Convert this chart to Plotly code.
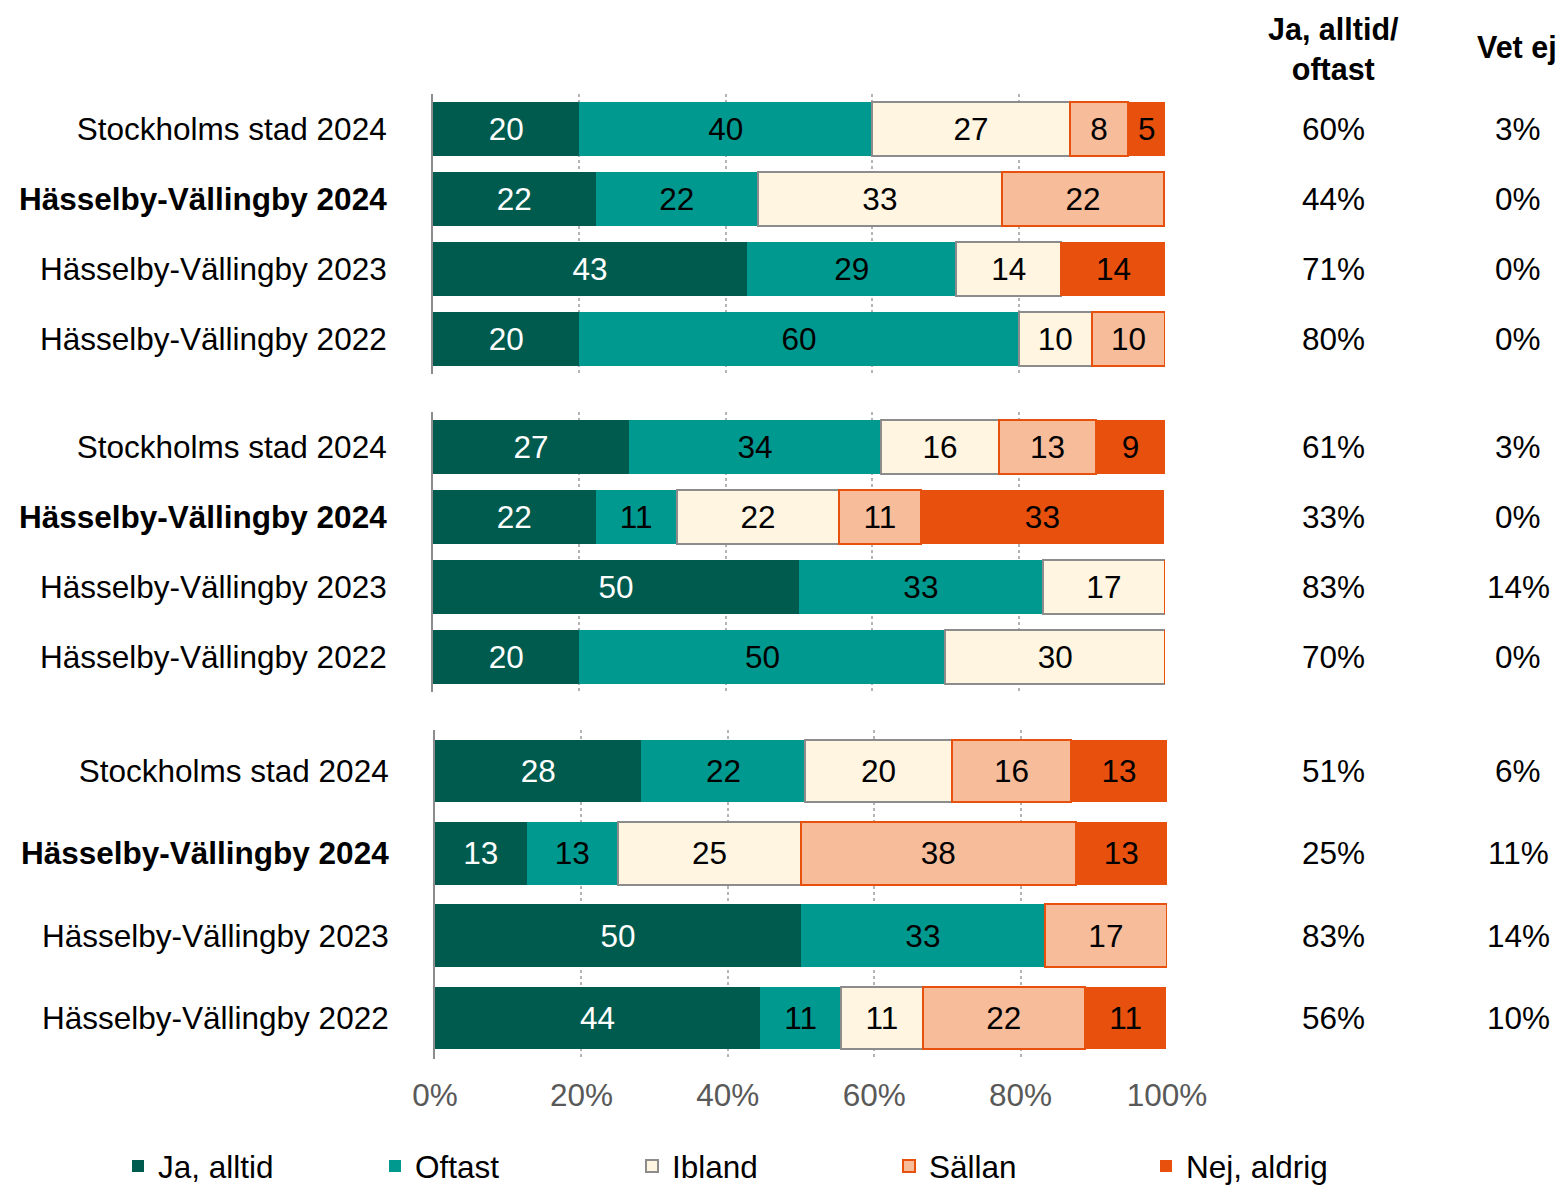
import plotly.graph_objects as go

# ---------------- data ----------------
categories = ["Stockholms stad 2024", "<b>Hässelby-Vällingby 2024</b>",
              "Hässelby-Vällingby 2023", "Hässelby-Vällingby 2022"]
series_names = ["Ja, alltid", "Oftast", "Ibland", "Sällan", "Nej, aldrig"]

# panel 1
p1_ja = [20, 22.2, 42.9, 20]
p1_oftast = [40, 22.2, 28.6, 60]
p1_ibland = [27, 33.3, 14.3, 10]
p1_sallan = [8, 22.2, 0, 10]
p1_nej = [5, 0, 14.3, 0]
p1_jaoftast = ["60%", "44%", "71%", "80%"]
p1_vetej = ["3%", "0%", "0%", "0%"]

# panel 2
p2_ja = [26.8, 22.2, 50, 20]
p2_oftast = [34.4, 11.1, 33.3, 50]
p2_ibland = [16.1, 22.2, 16.7, 30]
p2_sallan = [13.3, 11.1, 0, 0]
p2_nej = [9.4, 33.3, 0, 0]
p2_jaoftast = ["61%", "33%", "83%", "70%"]
p2_vetej = ["3%", "0%", "14%", "0%"]

# panel 3
p3_ja = [28.2, 12.5, 50, 44.4]
p3_oftast = [22.4, 12.5, 33.3, 11.1]
p3_ibland = [20.0, 25, 0, 11.1]
p3_sallan = [16.3, 37.5, 16.7, 22.2]
p3_nej = [13.1, 12.5, 0, 11.1]
p3_jaoftast = ["51%", "25%", "83%", "56%"]
p3_vetej = ["6%", "11%", "14%", "10%"]

x_ticks = [0, 20, 40, 60, 80, 100]
x_ticktext = ["0%", "20%", "40%", "60%", "80%", "100%"]
header_jaoftast = "<b>Ja, alltid/<br>oftast</b>"
header_vetej = "<b>Vet ej</b>"

# ---------------- styles ----------------
FONT = "Liberation Sans, Arial, sans-serif"
FS = 31.5
fills = ["#005B4F", "#00998F", "#FFF5E1", "#F7BD9B", "#E8500E"]
lines = ["#005B4F", "#00998F", "#8C8C8C", "#E8500E", "#E8500E"]
line_w = [0, 0, 2, 2, 0]
txt_col = ["white", "black", "black", "black", "black"]

panels = [
    ([p1_ja, p1_oftast, p1_ibland, p1_sallan, p1_nej], p1_jaoftast, p1_vetej),
    ([p2_ja, p2_oftast, p2_ibland, p2_sallan, p2_nej], p2_jaoftast, p2_vetej),
    ([p3_ja, p3_oftast, p3_ibland, p3_sallan, p3_nej], p3_jaoftast, p3_vetej),
]

W, H = 1564, 1188
x_doms = [[433 / W, 1165 / W], [433 / W, 1165 / W], [435 / W, 1167 / W]]
y_doms = [[1 - 374 / H, 1 - 94 / H], [1 - 692 / H, 1 - 412 / H], [1 - 1059 / H, 1 - 730 / H]]


def lab(v):
    return "" if v == 0 else str(int(v + 0.5))


fig = go.Figure()
annotations = []
for pi, (vals, jo, ve) in enumerate(panels):
    suf = "" if pi == 0 else str(pi + 1)
    for si, name in enumerate(series_names):
        fig.add_trace(go.Bar(
            y=categories, x=vals[si], orientation="h", name=name,
            xaxis="x" + suf, yaxis="y" + suf,
            marker=dict(color=fills[si], line=dict(color=lines[si], width=line_w[si])),
            text=[lab(v) for v in vals[si]], textposition="inside",
            insidetextanchor="middle", textangle=0, constraintext="none",
            insidetextfont=dict(color=txt_col[si], size=FS, family=FONT),
            showlegend=(pi == 0), legendgroup=name, hoverinfo="skip",
        ))
    for ci, cat in enumerate(categories):
        annotations.append(dict(xref="paper", yref="y" + suf, x=1333 / W, y=cat,
                                text=jo[ci], showarrow=False, xanchor="center",
                                font=dict(size=FS, color="black", family=FONT)))
        annotations.append(dict(xref="paper", yref="y" + suf, x=1518 / W, y=cat,
                                text=ve[ci], showarrow=False, xanchor="center",
                                font=dict(size=FS, color="black", family=FONT)))

annotations.append(dict(xref="paper", yref="paper", x=1333 / W, y=1 - 49 / H,
                        text=header_jaoftast, showarrow=False, xanchor="center",
                        yanchor="middle", font=dict(size=30.5, color="black", family=FONT)))
annotations.append(dict(xref="paper", yref="paper", x=1517 / W, y=1 - 47 / H,
                        text=header_vetej, showarrow=False, xanchor="center",
                        yanchor="middle", font=dict(size=30.5, color="black", family=FONT)))

layout = dict(
    width=W, height=H, barmode="stack", bargap=0.24,
    margin=dict(l=0, r=0, t=0, b=0, autoexpand=False),
    paper_bgcolor="white", plot_bgcolor="white",
    font=dict(family=FONT, size=FS, color="black"),
    annotations=annotations,
    legend=dict(orientation="h", x=118 / W, xanchor="left", y=1 - 1139 / H, yanchor="top",
                entrywidth=212, entrywidthmode="pixels", traceorder="normal",
                font=dict(size=FS, color="black", family=FONT), itemwidth=30),
)
for pi in range(3):
    suf = "" if pi == 0 else str(pi + 1)
    layout["xaxis" + suf] = dict(
        domain=x_doms[pi], range=[0, 100], anchor="y" + suf,
        tickvals=x_ticks, ticktext=x_ticktext, showticklabels=(pi == 2),
        showgrid=True, gridcolor="#B4B4B4", griddash="dot", gridwidth=2,
        zeroline=False, showline=False, ticks="", ticklabelstandoff=14,
        tickfont=dict(size=FS, color="#595959", family=FONT),
        fixedrange=True,
    )
    layout["yaxis" + suf] = dict(
        domain=y_doms[pi], anchor="x" + suf, type="category",
        autorange="reversed", showline=True, linecolor="#8C8C8C", linewidth=2,
        showgrid=False, ticks="", ticklabelstandoff=38,
        tickfont=dict(size=FS, color="black", family=FONT),
        fixedrange=True,
    )
fig.update_layout(**layout)
fig.write_html("out.html", config={"displayModeBar": False},
               post_script="document.body.style.margin='0';document.body.style.padding='0';")
